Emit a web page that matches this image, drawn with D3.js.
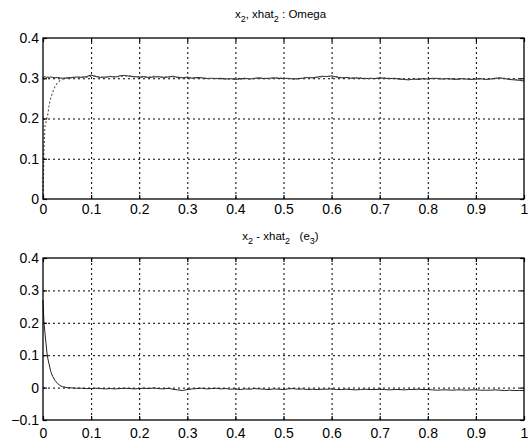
<!DOCTYPE html>
<html>
<head>
<meta charset="utf-8">
<script src="https://cdn.jsdelivr.net/npm/d3@7"></script>
<style>
  html, body { margin: 0; padding: 0; background: #fff; }
  svg { display: block; }
  .tick text { font-family: "Liberation Sans Narrow", "Liberation Sans", Arial, sans-serif; font-size: 14px; fill: #000; }
  .title { font-family: "Liberation Sans", Arial, sans-serif; font-size: 11.5px; fill: #000; }
  .grid line { stroke: #000; stroke-width: 1; stroke-dasharray: 2,3; }
  .grid path { display: none; }
</style>
</head>
<body>
<svg id="chart" width="529" height="443"></svg>
<script>
// time axis (s), dense at start-up, then 0.01 steps
const time = [0, 0.002, 0.004, 0.006, 0.008, 0.010, 0.013, 0.016, 0.020, 0.025, 0.030, 0.035, 0.040, 0.050,
  0.06, 0.07, 0.08, 0.09, 0.10, 0.11, 0.12, 0.13, 0.14, 0.15, 0.16, 0.17, 0.18, 0.19, 0.20,
  0.21, 0.22, 0.23, 0.24, 0.25, 0.26, 0.27, 0.28, 0.29, 0.30, 0.31, 0.32, 0.33, 0.34, 0.35,
  0.36, 0.37, 0.38, 0.39, 0.40, 0.41, 0.42, 0.43, 0.44, 0.45, 0.46, 0.47, 0.48, 0.49, 0.50,
  0.51, 0.52, 0.53, 0.54, 0.55, 0.56, 0.57, 0.58, 0.59, 0.60, 0.61, 0.62, 0.63, 0.64, 0.65,
  0.66, 0.67, 0.68, 0.69, 0.70, 0.71, 0.72, 0.73, 0.74, 0.75, 0.76, 0.77, 0.78, 0.79, 0.80,
  0.81, 0.82, 0.83, 0.84, 0.85, 0.86, 0.87, 0.88, 0.89, 0.90, 0.91, 0.92, 0.93, 0.94, 0.95,
  0.96, 0.97, 0.98, 0.99, 1.00];

// x2 : measured omega (solid)
const x2 = [0.300, 0.303, 0.304, 0.303, 0.302, 0.303, 0.302, 0.303, 0.302, 0.301, 0.302, 0.301, 0.300, 0.301,
  0.302, 0.303, 0.302, 0.304, 0.308, 0.304, 0.302, 0.303, 0.304, 0.303, 0.306, 0.307, 0.305, 0.304, 0.303,
  0.304, 0.302, 0.303, 0.304, 0.302, 0.303, 0.305, 0.302, 0.301, 0.303, 0.300, 0.302, 0.301, 0.299, 0.300,
  0.299, 0.300, 0.298, 0.299, 0.297, 0.299, 0.300, 0.298, 0.300, 0.301, 0.299, 0.300, 0.301, 0.300, 0.299,
  0.300, 0.298, 0.299, 0.300, 0.302, 0.301, 0.303, 0.305, 0.304, 0.306, 0.303, 0.301, 0.302, 0.300, 0.301,
  0.300, 0.299, 0.300, 0.299, 0.301, 0.300, 0.299, 0.300, 0.298, 0.297, 0.296, 0.298, 0.297, 0.299, 0.298,
  0.300, 0.299, 0.298, 0.299, 0.298, 0.297, 0.299, 0.298, 0.297, 0.298, 0.299, 0.297, 0.298, 0.300, 0.301,
  0.299, 0.297, 0.296, 0.295, 0.293];

// xhat2 : observer estimate (dotted)
const xhat2 = [0.000, 0.120, 0.180, 0.190, 0.200, 0.210, 0.235, 0.250, 0.265, 0.280, 0.288, 0.294, 0.298, 0.300,
  0.301, 0.302, 0.304, 0.302, 0.305, 0.306, 0.303, 0.302, 0.305, 0.304, 0.304, 0.306, 0.306, 0.303, 0.304,
  0.302, 0.303, 0.305, 0.303, 0.303, 0.304, 0.303, 0.303, 0.302, 0.301, 0.301, 0.300, 0.302, 0.300, 0.299,
  0.300, 0.298, 0.299, 0.298, 0.298, 0.297, 0.299, 0.299, 0.299, 0.300, 0.300, 0.299, 0.300, 0.301, 0.300,
  0.299, 0.299, 0.298, 0.301, 0.301, 0.302, 0.302, 0.304, 0.305, 0.304, 0.304, 0.302, 0.301, 0.301, 0.300,
  0.301, 0.300, 0.299, 0.300, 0.300, 0.301, 0.300, 0.299, 0.299, 0.298, 0.297, 0.297, 0.298, 0.298, 0.297,
  0.299, 0.300, 0.299, 0.298, 0.299, 0.298, 0.298, 0.299, 0.298, 0.297, 0.298, 0.298, 0.298, 0.299, 0.300,
  0.300, 0.298, 0.297, 0.296, 0.295];

// e3 = x2 - xhat2
const e3 = [0.270, 0.200, 0.170, 0.140, 0.110, 0.090, 0.070, 0.050, 0.035, 0.022, 0.013, 0.007, 0.003, 0.000,
  -0.001, -0.002, -0.002, -0.003, -0.003, -0.002, -0.003, -0.004, -0.003, -0.004, -0.003, -0.002, -0.003, -0.004, -0.003,
  -0.002, -0.003, -0.001, -0.003, -0.004, -0.002, -0.005, -0.007, -0.009, -0.006, -0.004, -0.003, -0.002, -0.004, -0.003,
  -0.002, -0.004, -0.003, -0.005, -0.004, -0.006, -0.004, -0.005, -0.003, -0.004, -0.005, -0.006, -0.004, -0.005, -0.006,
  -0.004, -0.003, -0.005, -0.004, -0.006, -0.005, -0.006, -0.005, -0.005, -0.004, -0.006, -0.006, -0.005, -0.006, -0.007,
  -0.006, -0.005, -0.006, -0.006, -0.005, -0.006, -0.007, -0.006, -0.006, -0.007, -0.006, -0.006, -0.005, -0.006, -0.006,
  -0.007, -0.008, -0.007, -0.007, -0.008, -0.007, -0.007, -0.008, -0.007, -0.007, -0.008, -0.008, -0.008, -0.007, -0.008,
  -0.009, -0.008, -0.009, -0.009, -0.009];

const xTicks = [0, 0.1, 0.2, 0.3, 0.4, 0.5, 0.6, 0.7, 0.8, 0.9, 1];
const yTicksTop = [0, 0.1, 0.2, 0.3, 0.4];
const yTicksBottom = [-0.1, 0, 0.1, 0.2, 0.3, 0.4];

const svg = d3.select("#chart");
const fmt = d => d === 0 ? "0" : (d === 1 ? "1" : d3.format(".1f")(d));

// draw one MATLAB-style subplot
function drawPanel(box, yDomain, yTicks, series, title, labelPad) {
    const x = d3.scaleLinear().domain([0, 1]).range([box.left, box.right]);
    const y = d3.scaleLinear().domain(yDomain).range([box.bottom, box.top]);
    const w = box.right - box.left, h = box.bottom - box.top;
    const g = svg.append("g");

    // dotted grid
    g.append("g").attr("class", "grid")
        .attr("transform", `translate(0,${box.bottom})`)
        .call(d3.axisBottom(x).tickValues(xTicks.slice(1, -1)).tickSize(-h).tickFormat(""));
    g.append("g").attr("class", "grid")
        .attr("transform", `translate(${box.left},0)`)
        .call(d3.axisLeft(y).tickValues(yTicks.slice(1, -1)).tickSize(-w).tickFormat(""));

    // data lines
    const line = d3.line().x((d, i) => x(time[i])).y(d => y(d));
    series.forEach(s => {
        g.append("path")
            .datum(s.values)
            .attr("fill", "none")
            .attr("stroke", s.color)
            .attr("stroke-width", s.width)
            .attr("stroke-dasharray", s.dash)
            .attr("d", line);
    });

    // axes with inward ticks + frame
    const xa = g.append("g").attr("transform", `translate(0,${box.bottom})`)
        .call(d3.axisBottom(x).tickValues(xTicks).tickSize(-4).tickPadding(labelPad).tickFormat(fmt));
    const xt = g.append("g").attr("transform", `translate(0,${box.top})`)
        .call(d3.axisTop(x).tickValues(xTicks).tickSize(-4).tickFormat(""));
    const ya = g.append("g").attr("transform", `translate(${box.left},0)`)
        .call(d3.axisLeft(y).tickValues(yTicks).tickSize(-4).tickPadding(4).tickFormat(fmt));
    const yr = g.append("g").attr("transform", `translate(${box.right},0)`)
        .call(d3.axisRight(y).tickValues(yTicks).tickSize(-4).tickFormat(""));
    [xa, xt, ya, yr].forEach(a => {
        a.select(".domain").remove();
        a.selectAll(".tick line").attr("stroke", "#000").attr("stroke-width", 1.2);
    });

    g.append("rect")
        .attr("x", box.left).attr("y", box.top)
        .attr("width", w).attr("height", h)
        .attr("fill", "none").attr("stroke", "#000").attr("stroke-width", 1.3);

    // title with subscripts
    const t = g.append("text").attr("class", "title")
        .attr("x", (box.left + box.right) / 2 - 3).attr("y", box.top - title.dy)
        .attr("text-anchor", "middle");
    let shift = 0;
    title.parts.forEach(p => {
        if (p.sub) {
            t.append("tspan").attr("dy", 4).attr("font-size", 9).text(p.sub);
            shift = -4;
        } else {
            t.append("tspan").attr("dy", shift).text(p.text);
            shift = 0;
        }
    });
}

drawPanel({ left: 43, right: 524, top: 38, bottom: 199 }, [0, 0.4], yTicksTop, [
    { values: x2, color: "#222", width: 1, dash: null },
    { values: xhat2, color: "#555", width: 1.1, dash: "2,2" }
], { dy: 20, parts: [{ text: "x" }, { sub: "2" }, { text: ", xhat" }, { sub: "2" }, { text: " : Omega" }] }, 5);

drawPanel({ left: 43, right: 524, top: 258, bottom: 420 }, [-0.1, 0.4], yTicksBottom, [
    { values: e3, color: "#222", width: 1, dash: null }
], { dy: 18, parts: [{ text: "x" }, { sub: "2" }, { text: " - xhat" }, { sub: "2" }, { text: "\u00a0\u00a0 (e" }, { sub: "3" }, { text: ")" }] }, 8);
</script>
</body>
</html>
